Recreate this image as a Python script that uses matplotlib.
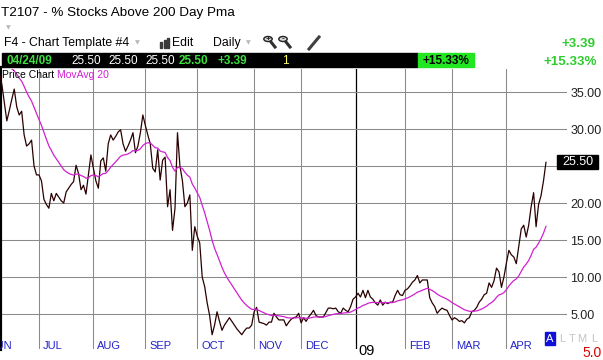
import numpy as np
import pandas as pd
import matplotlib
matplotlib.use("Agg")
import matplotlib.pyplot as plt
from matplotlib.patches import Rectangle, Circle
from matplotlib.lines import Line2D

# T2107 daily closes, 06/09/08 .. 04/24/09
close = [
    37.5, 36.0, 33.5, 31.1, 32.5, 34.0, 35.4, 33.0, 31.9, 32.4,
    29.2, 27.7, 28.0, 28.5, 25.0, 23.8, 23.8, 23.0, 20.5, 19.8,
    19.3, 21.3, 20.3, 21.3, 20.8, 20.3, 20.0, 21.5, 22.0, 22.5,
    22.9, 25.1, 24.0, 21.8, 22.4, 21.2, 23.8, 26.5, 24.7, 23.0,
    22.0, 25.7, 26.1, 24.3, 28.0, 29.2, 28.5, 29.0, 29.6, 29.9,
    28.0, 27.0, 27.7, 28.5, 29.5, 26.8, 27.7, 29.5, 31.9, 30.5,
    29.2, 28.0, 24.7, 24.2, 27.2, 23.1, 25.8, 26.2, 19.5, 21.8,
    16.3, 19.3, 29.5, 25.0, 23.0, 19.5, 20.0, 21.1, 13.6, 16.8,
    15.5, 14.6, 10.0, 8.7, 6.5, 4.8, 2.2, 3.5, 5.3, 4.0,
    2.8, 3.5, 4.0, 4.5, 4.0, 3.5, 3.0, 2.6, 2.2, 2.7,
    3.1, 3.1, 3.5, 5.3, 5.9, 3.9, 3.8, 3.7, 3.5, 3.9,
    3.9, 5.1, 4.6, 4.2, 4.2, 4.2, 3.4, 3.9, 4.3, 4.5,
    4.6, 5.1, 3.8, 4.5, 4.0, 4.6, 5.0, 5.5, 4.8, 4.6,
    4.6, 4.6, 5.2, 5.8, 5.8, 5.7, 5.8, 5.3, 5.1, 5.8,
    5.5, 5.3, 6.0, 7.0, 7.3, 7.8, 7.3, 8.2, 7.2, 8.2,
    7.3, 7.0, 6.5, 6.2, 6.9, 6.2, 6.6, 6.4, 6.6, 6.6,
    7.5, 8.2, 7.6, 7.5, 8.2, 8.4, 8.8, 9.3, 9.6, 10.2,
    9.2, 9.6, 9.6, 9.6, 7.2, 6.5, 6.0, 5.1, 5.5, 5.8,
    5.6, 5.5, 4.8, 4.2, 4.5, 4.3, 4.0, 4.1, 3.8, 4.3,
    4.5, 5.3, 5.5, 5.9, 6.6, 7.0, 7.6, 7.8, 9.2, 8.6,
    9.5, 11.2, 10.7, 8.6, 10.0, 11.9, 13.6, 13.0, 12.7, 11.8,
    14.1, 16.5, 17.0, 15.4, 17.0, 19.5, 21.4, 16.8, 19.8, 21.0,
    23.0, 25.5,
]
# closes before the visible window (05/12/08 .. 06/06/08), only feed the moving average
warmup = [45.0, 44.5, 43.5, 44.0, 44.5,
          45.0, 44.0, 43.0, 44.5, 43.5, 43.6,
          42.5, 41.0, 42.0, 42.6, 41.0,
          38.5, 36.0, 36.2]

holidays = ["2008-05-26", "2008-07-04", "2008-09-01", "2008-11-27", "2008-12-25",
            "2009-01-01", "2009-01-19", "2009-02-16", "2009-04-10"]
month_names = {6: "JUN", 7: "JUL", 8: "AUG", 9: "SEP", 10: "OCT", 11: "NOV",
               12: "DEC", 1: "09", 2: "FEB", 3: "MAR", 4: "APR"}
yticks = [5, 10, 15, 20, 25, 30, 35]

dates = pd.bdate_range("2008-05-12", "2009-04-24", freq="C", holidays=holidays)
s = pd.Series(warmup + close, index=dates)
ma = s.ewm(span=20, adjust=False).mean()
x = np.arange(len(s)) - len(warmup)

W, H = 603, 360
def fx(v):
    return v / W
def fy(v):
    return 1 - v / H

NARROW = ["Liberation Sans Narrow", "Liberation Sans", "DejaVu Sans"]
SANS = ["Liberation Sans", "DejaVu Sans"]

fig = plt.figure(figsize=(W / 100, H / 100), dpi=100)
fig.patch.set_facecolor("white")

ax = fig.add_axes([0.0, fy(349), fx(567), (349 - 68.5) / H])
ax.set_facecolor("white")
ax.plot(x[len(warmup):], s.values[len(warmup):], color="#2a0000", lw=0.9, zorder=3)
ax.plot(x, ma.values, color="#d020d0", lw=0.9, zorder=4)

# month grid (first trading day of each month shown)
first_idx = pd.Series(x, index=dates).groupby([dates.year, dates.month]).first()
months = [(int(m), int(v)) for (yy, m), v in first_idx.items() if m in month_names]
grid_months = [(m, v) for m, v in months if v > 0]
ax.set_xticks([v for m, v in grid_months])
ax.set_yticks(yticks)
ax.set_yticklabels(["" if t == 25 else "%.2f" % t for t in yticks])
ax.set_xlim(0.24, 229.5)
ax.set_ylim(0.27, 38.18)
ax.grid(True, color="#8a8a8a", lw=0.75)
for gl, (m, v) in zip(ax.get_xgridlines(), grid_months):
    if m == 1:
        gl.set_color("black")
        gl.set_linewidth(0.9)
ax.tick_params(axis="x", length=0, labelbottom=False)
ax.yaxis.tick_right()
ax.tick_params(axis="y", length=0, pad=2.5, labelsize=9, labelcolor="#222222")
for lab in ax.get_yticklabels():
    lab.set_family(NARROW)
for sp in ["top", "right", "bottom"]:
    ax.spines[sp].set_visible(False)
ax.spines["left"].set_color("black")
ax.spines["left"].set_linewidth(3)

xt = ax.get_xaxis_transform()
for m, v in months:
    if m == 1:
        ax.text(v + 1.1, -0.006, month_names[m], transform=xt, ha="left", va="center",
                fontsize=10.5, color="black", family=NARROW, clip_on=False)
    else:
        ax.text(v + 1.6, 0.012, month_names[m], transform=xt, ha="left", va="center",
                fontsize=8, color="#2323c8", family=NARROW, clip_on=False)

# last price box
yt = ax.get_yaxis_transform()
ax.add_patch(Rectangle((fx(557) / fx(567), close[-1] - 0.95), (598 - 557) / 567, 1.9,
                       transform=yt, color="black", clip_on=False, zorder=6))
ax.text(fx(577.5) / fx(567), close[-1], "%.2f" % close[-1], transform=yt,
        ha="center", va="center", color="white", fontsize=9, family=NARROW, zorder=7)

# legend
fig.text(fx(2), fy(75), "Price Chart", fontsize=7.5, family=NARROW, color="black", va="center")
fig.text(fx(57), fy(75), "MovAvg 20", fontsize=7.5, family=NARROW, color="#d020d0", va="center")

# header
fig.text(fx(1), fy(13), "T2107 - % Stocks Above 200 Day Pma", fontsize=9.7, family=SANS,
         color="black", va="center")
fig.text(fx(8), fy(28), "▼", fontsize=4.5, color="#b8b8b8", ha="center", va="center")
fig.text(fx(4), fy(43), "F4 - Chart Template #4", fontsize=8.8, family=SANS, va="center")
fig.text(fx(137), fy(43), "▼", fontsize=4.5, color="#b8b8b8", ha="center", va="center")
for bx, bh in [(160, 6), (163.5, 8), (167, 10)]:
    fig.add_artist(Rectangle((fx(bx), fy(48)), 2.2 / W, bh / H, transform=fig.transFigure,
                             color="#3a3a3a"))
fig.text(fx(172), fy(43), "Edit", fontsize=8.8, family=SANS, va="center")
fig.text(fx(213), fy(43), "Daily", fontsize=8.8, family=SANS, va="center")
fig.text(fx(248), fy(43), "▼", fontsize=4.5, color="#b8b8b8", ha="center", va="center")
for cx, sign in [(268, "+"), (283, "-")]:
    fig.add_artist(Line2D([fx(cx + 3), fx(cx + 7)], [fy(42), fy(47)], transform=fig.transFigure,
                          color="#303030", lw=2.2))
    fig.add_artist(Circle((fx(cx), fy(39)), 4.2 / W, transform=fig.transFigure,
                          fc="#d8d8d8", ec="#202020", lw=1.0))
    fig.text(fx(cx), fy(39), sign, fontsize=6, family=SANS, weight="bold",
             ha="center", va="center", color="#202020")
fig.add_artist(Line2D([fx(309), fx(319)], [fy(49), fy(37)], transform=fig.transFigure,
                      color="#404040", lw=2.2))

fig.text(fx(596), fy(44), "+3.39", fontsize=9.6, family=SANS, weight="bold",
         color="#2fcc2f", ha="right", va="center")
fig.text(fx(597), fy(62), "+15.33%", fontsize=9.6, family=SANS, weight="bold",
         color="#2fcc2f", ha="right", va="center")

# quote bar
fig.add_artist(Rectangle((fx(2), fy(67.3)), 416 / W, 14.6 / H, transform=fig.transFigure,
                         color="black"))
fig.add_artist(Rectangle((fx(418), fy(67.3)), 56 / W, 14.6 / H, transform=fig.transFigure,
                         color="#22e622"))
bar_items = [(7, "04/24/09", "#3ee03e", "bold"), (71, "25.50", "white", "normal"),
             (108, "25.50", "white", "normal"), (145, "25.50", "white", "normal"),
             (179, "25.50", "#3ee03e", "bold"), (218, "+3.39", "#3ee03e", "bold"),
             (282, "1", "#ffff66", "normal")]
for bx, txt, col, wt in bar_items:
    fig.text(fx(bx), fy(60.5), txt, fontsize=8.5, family=SANS, weight=wt, color=col,
             va="center")
fig.text(fx(446), fy(60.5), "+15.33%", fontsize=8.5, family=SANS, weight="bold",
         color="black", ha="center", va="center")

# bottom right
fig.add_artist(Rectangle((fx(545), fy(345)), 10 / W, 13 / H, transform=fig.transFigure,
                         color="#1010d8"))
fig.text(fx(550), fy(338.5), "A", fontsize=8, family=NARROW, color="white",
         ha="center", va="center")
for lx, ch in [(562, "L"), (572, "T"), (582, "M"), (594, "L")]:
    fig.text(fx(lx), fy(338.5), ch, fontsize=8, family=NARROW, color="#c4c4c4",
             ha="center", va="center")
fig.text(fx(602), fy(353), "5.0", fontsize=10, family=SANS, color="#dd0000",
         ha="right", va="center")

fig.savefig("out.png", dpi=100)
